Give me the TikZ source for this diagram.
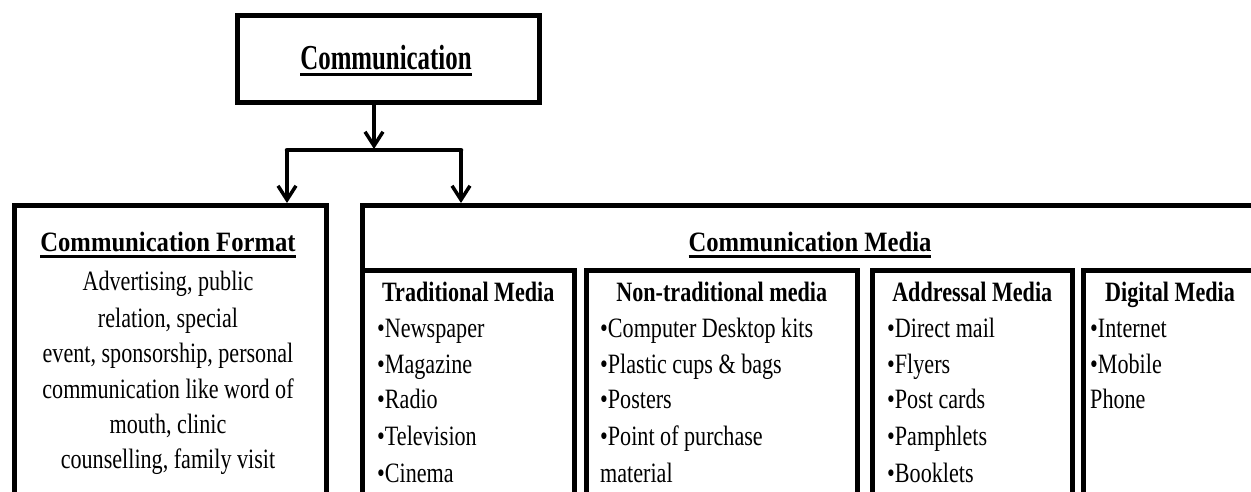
\documentclass[tikz,border=0pt]{standalone}
\usepackage{fontspec}
\setmainfont{Liberation Serif}[FakeStretch=0.79]
\newfontfamily\hdfont{Liberation Serif}[FakeStretch=0.88]
\newfontfamily\topfont{Liberation Serif}[FakeStretch=0.71]
\usetikzlibrary{arrows.meta,positioning}
\newcommand\ttlul[1]{\setbox0\hbox{#1}\rlap{\rule[-6.5pt]{\wd0}{3pt}}\box0}
\tikzset{
  frm/.style={draw,line width=4.5pt,anchor=north west,inner sep=0pt},
  toptl/.style={font=\topfont\fontsize{35}{40}\selectfont\bfseries,anchor=base,inner sep=0pt},
  ttl/.style={font=\hdfont\fontsize{28}{36}\selectfont\bfseries,anchor=base,inner sep=0pt},
  subhd/.style={font=\fontsize{28}{36}\selectfont\bfseries,anchor=base,inner sep=0pt},
  itm/.style={font=\fontsize{28}{36}\selectfont,anchor=base west,inner sep=0pt},
  ctr/.style={font=\fontsize{28}{36}\selectfont,anchor=base,inner sep=0pt},
  ar/.style={-{Straight Barb[length=14pt,width=18pt,line width=3.5pt]},line width=4.5pt},
  bar/.style={line width=4.5pt,line cap=round}
}
\begin{document}
\begin{tikzpicture}[x=1pt,y=-1pt]
\useasboundingbox (0,0) rectangle (1251,491);
\clip (0,0) rectangle (1251,491);
% top box
\node[frm,minimum width=302pt,minimum height=87pt] (comm) at (235,13) {};
\node[toptl] (commtxt) at (386,69) {\ttlul{Communication}};
% split
\coordinate (split) at (374,150);
\coordinate (bl) at (287,150);
\coordinate (br) at (461,150);
% lower boxes
\node[frm,minimum width=312pt,minimum height=320pt] (fmt) at (12,203) {};
\node[frm,minimum width=920pt,minimum height=320pt] (media) at (360,203) {};
\node[frm,minimum width=212pt,minimum height=260pt] (trad) at (360,268) {};
\node[frm,minimum width=271pt,minimum height=260pt] (nontrad) at (584,268) {};
\node[frm,minimum width=200pt,minimum height=260pt] (addr) at (870,268) {};
\node[frm,minimum width=200pt,minimum height=260pt] (digi) at (1081,268) {};
% connectors
\draw[ar,shorten >=1pt] (comm.south -| split) -- (split);
\draw[bar] (bl) -- (br);
\draw[ar] (bl) -- (bl |- fmt.north);
\draw[ar] (br) -- (br |- media.north);
% format
\node[ttl] (fmthd) at (168,251) {\ttlul{Communication Format}};
\foreach \yy/\t [count=\i] in {290/{Advertising, public},327/{relation, special},362/{event, sponsorship, personal},398/{communication like word of},433/{mouth, clinic},468/{counselling, family visit}}
  {\node[ctr] (f\i) at (168,\yy) {\t};}
% media
\node[ttl] (mediahd) at (810,251) {\ttlul{Communication Media}};
\node[subhd] (tradhd) at (trad.north |- 0,301) {Traditional Media};
\node[subhd] (nontradhd) at (nontrad.north |- 0,301) {Non-traditional media};
\node[subhd] (addrhd) at (addr.north |- 0,301) {Addressal Media};
\node[subhd] (digihd) at (1170,301) {Digital Media};
\foreach \yy/\t [count=\i] in {337/Newspaper,373/Magazine,408/Radio,445/Television,482/Cinema}
  {\node[itm] (t\i) at (377,\yy) {\textbullet\t};}
\foreach \yy/\t [count=\i] in {337/{\textbullet Computer Desktop kits},373/{\textbullet Plastic cups \& bags},408/{\textbullet Posters},445/{\textbullet Point of purchase},482/material}
  {\node[itm] (n\i) at (600,\yy) {\t};}
\foreach \yy/\t [count=\i] in {337/{Direct mail},373/Flyers,408/{Post cards},445/Pamphlets,482/Booklets}
  {\node[itm] (a\i) at (887,\yy) {\textbullet\t};}
\foreach \yy/\t [count=\i] in {337/{\textbullet Internet},373/{\textbullet Mobile},408/Phone}
  {\node[itm] (d\i) at (1090,\yy) {\t};}
\end{tikzpicture}
\end{document}
